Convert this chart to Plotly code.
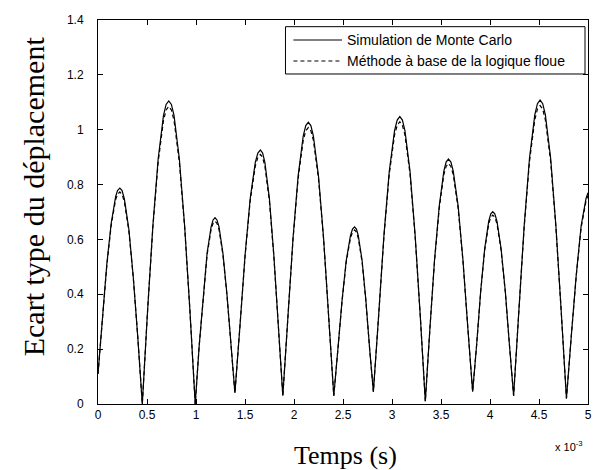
import plotly.graph_objects as go

# Time axis values (displayed in units of 10^-3 s)
temps_ms = [0, 0.045, 0.09, 0.135, 0.18, 0.199, 0.223, 0.246, 0.269, 0.315, 0.360, 0.406, 0.452,
            0.506, 0.560, 0.614, 0.668, 0.695, 0.722, 0.749, 0.776, 0.830, 0.884, 0.938, 0.992,
            1.032, 1.073, 1.113, 1.154, 1.174, 1.194, 1.214, 1.235, 1.275, 1.316, 1.356, 1.397,
            1.449, 1.501, 1.553, 1.605, 1.631, 1.657, 1.680, 1.703, 1.749, 1.794, 1.840, 1.886,
            1.938, 1.990, 2.042, 2.094, 2.120, 2.146, 2.172, 2.198, 2.250, 2.302, 2.354, 2.406,
            2.448, 2.491, 2.533, 2.576, 2.597, 2.618, 2.637, 2.656, 2.695, 2.733, 2.772, 2.810,
            2.864, 2.918, 2.972, 3.026, 3.053, 3.080, 3.106, 3.132, 3.184, 3.236, 3.288, 3.340,
            3.387, 3.434, 3.482, 3.529, 3.552, 3.576, 3.601, 3.625, 3.675, 3.724, 3.774, 3.823,
            3.864, 3.905, 3.946, 3.987, 4.008, 4.028, 4.049, 4.071, 4.113, 4.156, 4.198, 4.241,
            4.295, 4.349, 4.403, 4.457, 4.484, 4.511, 4.538, 4.565, 4.619, 4.672, 4.726, 4.780,
            4.83, 4.88, 4.93, 4.98, 5.0]

# Monte Carlo simulation (solid)
monte_carlo = [0.11, 0.32, 0.51, 0.66, 0.756, 0.778, 0.787, 0.778, 0.748, 0.637, 0.463, 0.243, 0.00,
               0.341, 0.650, 0.894, 1.051, 1.092, 1.105, 1.092, 1.051, 0.894, 0.650, 0.341, 0.00,
               0.210, 0.399, 0.549, 0.646, 0.671, 0.679, 0.671, 0.646, 0.549, 0.399, 0.210, 0.04,
               0.286, 0.544, 0.749, 0.881, 0.915, 0.926, 0.915, 0.881, 0.749, 0.544, 0.286, 0.03,
               0.317, 0.604, 0.831, 0.977, 1.015, 1.027, 1.015, 0.977, 0.831, 0.604, 0.317, 0.03,
               0.200, 0.380, 0.523, 0.614, 0.638, 0.646, 0.638, 0.614, 0.523, 0.380, 0.200, 0.045,
               0.324, 0.616, 0.848, 0.997, 1.035, 1.048, 1.035, 0.997, 0.848, 0.616, 0.324, 0.01,
               0.276, 0.525, 0.722, 0.849, 0.882, 0.893, 0.882, 0.849, 0.722, 0.525, 0.276, 0.045,
               0.217, 0.412, 0.567, 0.667, 0.693, 0.701, 0.693, 0.667, 0.567, 0.412, 0.217, 0.03,
               0.342, 0.651, 0.896, 1.054, 1.095, 1.108, 1.095, 1.054, 0.896, 0.651, 0.342, 0.02,
               0.25, 0.47, 0.65, 0.75, 0.77]

# Fuzzy-logic method (dashed)
logique_floue = [0.11, 0.32, 0.505, 0.652, 0.745, 0.764, 0.773, 0.764, 0.737, 0.630, 0.460, 0.243, 0.00,
                 0.341, 0.645, 0.882, 1.033, 1.072, 1.085, 1.072, 1.033, 0.882, 0.645, 0.341, 0.00,
                 0.210, 0.396, 0.543, 0.636, 0.659, 0.667, 0.659, 0.636, 0.543, 0.396, 0.210, 0.04,
                 0.286, 0.540, 0.740, 0.867, 0.899, 0.910, 0.899, 0.867, 0.740, 0.540, 0.286, 0.03,
                 0.317, 0.600, 0.821, 0.961, 0.996, 1.008, 0.996, 0.961, 0.821, 0.600, 0.317, 0.03,
                 0.200, 0.377, 0.517, 0.605, 0.627, 0.635, 0.627, 0.605, 0.517, 0.377, 0.200, 0.045,
                 0.324, 0.611, 0.838, 0.981, 1.016, 1.029, 1.016, 0.981, 0.838, 0.611, 0.324, 0.01,
                 0.276, 0.521, 0.713, 0.836, 0.866, 0.877, 0.866, 0.836, 0.713, 0.521, 0.276, 0.045,
                 0.217, 0.409, 0.561, 0.657, 0.681, 0.689, 0.681, 0.657, 0.561, 0.409, 0.217, 0.03,
                 0.342, 0.646, 0.884, 1.036, 1.075, 1.088, 1.075, 1.036, 0.884, 0.646, 0.342, 0.02,
                 0.25, 0.467, 0.643, 0.74, 0.76]

series_names = ["Simulation de Monte Carlo", "Méthode à base de la logique floue"]
x_ticks = [0, 0.5, 1, 1.5, 2, 2.5, 3, 3.5, 4, 4.5, 5]
y_ticks = [0, 0.2, 0.4, 0.6, 0.8, 1.0, 1.2, 1.4]

DASH = "4px,3px"

fig = go.Figure()
fig.add_trace(go.Scatter(x=temps_ms, y=monte_carlo, mode="lines",
                         name=series_names[0], showlegend=False,
                         line=dict(color="black", width=1.2)))
fig.add_trace(go.Scatter(x=temps_ms, y=logique_floue, mode="lines",
                         name=series_names[1], showlegend=False,
                         line=dict(color="black", width=1.2, dash=DASH)))

axis_common = dict(showgrid=False, zeroline=False, showline=True, linecolor="black",
                   linewidth=1, mirror="allticks", ticks="inside", ticklen=5,
                   tickcolor="black", tickwidth=1,
                   tickfont=dict(family="Liberation Sans, Arial", size=12, color="black"))

fig.update_xaxes(range=[0, 5], tickvals=x_ticks, ticktext=[f"{v:g}" for v in x_ticks],
                 ticklabeloverflow="allow", **axis_common)
fig.update_yaxes(range=[0, 1.4], tickvals=y_ticks, ticktext=[f"{v:g}" for v in y_ticks],
                 ticklabelstandoff=11, **axis_common)

# Legend drawn as a boxed key (paper coordinates)
lx0, lx1, ly0, ly1 = 0.3826, 0.9939, 0.8594, 0.9826
row_y = [0.9479, 0.8932]
seg_x0, seg_x1, txt_x = 0.3988, 0.498, 0.504

shapes = [dict(type="rect", xref="paper", yref="paper", x0=lx0, x1=lx1, y0=ly0, y1=ly1,
               line=dict(color="black", width=1), fillcolor="white", layer="above")]
shapes.append(dict(type="line", xref="paper", yref="paper", x0=seg_x0, x1=seg_x1,
                   y0=row_y[0], y1=row_y[0], line=dict(color="black", width=1.2),
                   layer="above"))
shapes.append(dict(type="line", xref="paper", yref="paper", x0=seg_x0, x1=seg_x1,
                   y0=row_y[1], y1=row_y[1], line=dict(color="black", width=1.2, dash=DASH),
                   layer="above"))

annotations = [
    dict(text=series_names[i], showarrow=False, xref="paper", yref="paper",
         x=txt_x, y=row_y[i], xanchor="left", yanchor="middle",
         font=dict(family="Liberation Sans, Arial", size=14, color="black"))
    for i in range(2)
]
annotations += [
    dict(text="Ecart type du déplacement", textangle=-90, showarrow=False,
         xref="paper", yref="paper", x=-0.1326, y=0.541,
         xanchor="center", yanchor="middle",
         font=dict(family="Liberation Serif, Times New Roman", size=30, color="black")),
    dict(text="Temps (s)", showarrow=False, xref="paper", yref="paper",
         x=0.505, y=-0.133, xanchor="center", yanchor="middle",
         font=dict(family="Liberation Serif, Times New Roman", size=26, color="black")),
    dict(text="x 10<sup>-3</sup>", showarrow=False, xref="paper", yref="paper",
         x=0.994, y=-0.11, xanchor="right", yanchor="middle",
         font=dict(family="Liberation Sans, Arial", size=11, color="black")),
]

fig.update_layout(
    width=594, height=470,
    margin=dict(l=98, r=2, t=20, b=66),
    paper_bgcolor="white", plot_bgcolor="white",
    showlegend=False,
    shapes=shapes,
    annotations=annotations,
)

fig.write_html("out.html", config={"displayModeBar": False},
               post_script="document.body.style.margin='0';document.body.style.padding='0';")
